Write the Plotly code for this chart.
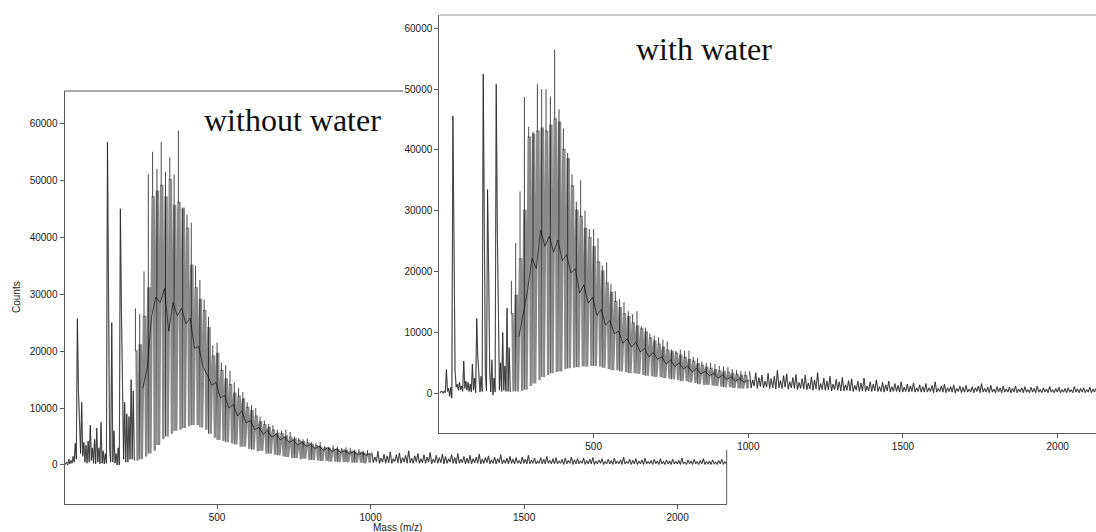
import plotly.graph_objects as go

# Values, in hundreds of counts, 3.5 Da apart from m/z 10.
# Low-mass rows: peak, valley, peak, valley. Main-envelope rows: peak, shoulder, valley, secondary peak.
CORE_START, CORE_STEP = 10.0, 3.5
TAIL_START, TAIL_STEP = 1004.0, 5.0
HEAD_MASS = [3.0, 6.5]

without_head = [0, 2]
without_low = [
    5,0,10,2, 8,3,15,5, 38,10,257,130, 60,20,110,15, 40,5,35,3, 42,5,70,8, 30,3,45,2,
    65,5,30,2, 75,3,25,2, 20,3,567,285, 30,5,250,5, 60,3,20,0, 30,0,450,270, 90,10,110,5,
    90,5,85,10, 150,10,130,8,
]
without_main = [
    275,200,8,70, 265,210,10,135, 340,260,15,170, 510,310,20,260, 550,470,25,295, 520,480,35,285,
    567,490,45,310, 515,470,50,235, 540,500,55,285, 510,455,60,262, 587,460,62,275, 450,450,65,248,
    440,415,68,258, 425,350,70,205, 350,310,70,208, 325,290,66,172, 290,270,62,158, 260,240,55,140,
    210,190,48,145, 215,195,44,118, 180,165,42,122, 175,150,40,100, 165,140,38,106, 145,125,36,86,
    135,120,32,95, 128,115,32,74, 110,100,28,78, 105,95,27,62, 100,85,24,66, 85,75,25,54,
    78,70,20,60, 72,65,20,49, 70,60,18,54, 62,55,17,44, 60,54,15,49, 62,50,14,40,
    58,48,12,44, 50,45,12,35, 47,42,10,40, 45,40,11,33, 46,38,9,36, 40,35,9,29,
    38,33,8,33, 40,30,7,26, 33,29,7,30, 32,28,6,24, 34,27,6,28, 32,26,5,22,
    30,25,5,25, 31,24,5,20, 30,23,4,23, 27,22,4,18, 28,21,4,21, 25,20,3,17, 26,19,4,20,
]
without_tail = [
    22,4,14,6,24,3,12,5,19,3,16,4,23,3,11,6,18,4,21,3,13,5,17,3,25,4,12,3,16,5,20,3,
    11,4,18,3,14,5,22,2,10,4,17,3,13,4,19,2,15,3,11,5,18,3,13,2,20,3,10,4,15,2,12,3,
    17,2,11,4,14,3,19,2,10,3,13,4,16,2,9,3,14,2,11,4,18,2,9,3,12,2,15,3,10,2,13,3,
    8,2,14,3,10,2,17,2,9,3,12,2,7,3,13,2,10,2,15,3,8,2,11,2,13,2,7,3,10,1,12,2,
    8,3,14,1,9,2,11,2,7,3,12,1,8,2,10,2,13,1,7,2,9,3,11,1,6,2,10,2,8,1,12,2,
    7,2,9,1,14,2,6,3,10,1,8,2,11,1,7,2,9,1,12,2,6,2,8,1,10,2,7,1,11,2,6,1,
    9,2,7,1,10,2,6,2,8,1,12,2,5,1,9,2,7,1,10,2,6,1,8,2,11,1,6,2,7,1,9,2,
    5,1,8,2,10,1,6,2,7,1,9,2,5,1,
]

with_head = [0, 3]
with_low = [
    3,0,4,1, 39,3,8,-5, 10,-8,456,227, 38,10,15,5, 18,6,12,3, 53,8,20,5, 18,3,15,2,
    48,5,25,1, 123,60,22,2, 28,3,525,300, 30,4,335,205, 35,2,55,-3, 25,2,508,270, 115,5,50,3,
    100,5,45,3, 140,3,75,2,
]
with_main = [
    185,130,3,85, 247,160,3,93, 332,220,4,135, 487,300,6,170, 438,420,12,222, 430,425,16,205,
    508,430,22,268, 500,435,27,242, 500,430,30,258, 488,440,33,232, 565,450,35,252, 467,445,36,218,
    435,400,40,228, 395,385,41,198, 360,340,42,205, 315,300,43,165, 350,290,44,178, 300,270,44,148,
    270,255,45,158, 270,240,45,128, 255,215,44,138, 210,200,42,112, 215,180,40,120, 180,165,38,98,
    168,150,38,102, 155,140,36,82, 150,130,35,90, 135,125,33,76, 130,115,33,84, 135,110,32,68,
    110,105,30,74, 108,100,29,60, 98,90,28,67, 95,85,27,56, 92,80,27,60, 88,75,25,48,
    85,70,24,55, 72,68,23,44, 70,65,22,50, 72,62,20,40, 70,58,20,45, 70,55,18,35,
    60,52,17,41, 58,48,15,32, 52,45,14,36, 50,42,14,29, 50,40,13,33, 48,38,12,25,
    45,36,11,30, 44,35,10,23, 43,34,10,27, 40,32,9,20, 38,30,8,24, 37,29,8,18, 36,28,8,22,
]
with_tail = [
    36,9,22,12,34,8,26,11,30,9,20,10,33,8,24,9,28,7,38,9,21,8,29,10,32,7,19,9,26,8,31,6,
    18,8,24,7,30,6,17,7,27,5,22,7,34,5,16,6,25,5,20,6,28,4,15,6,23,5,19,4,26,4,14,5,
    21,4,24,3,13,5,20,3,17,4,25,3,12,4,19,3,15,4,22,3,11,3,18,2,14,4,20,2,11,3,16,3,
    13,2,19,2,10,3,15,2,12,3,17,2,9,3,14,2,11,2,16,2,9,3,13,1,19,2,8,3,12,2,15,1,
    9,3,11,2,14,1,8,3,12,1,10,2,13,2,7,2,11,1,9,3,12,1,16,2,8,2,10,1,13,2,7,1,
    11,2,9,1,12,2,7,2,10,1,8,2,12,1,7,2,9,1,11,2,6,1,10,2,8,1,12,2,6,1,9,2,
    7,1,11,2,6,1,8,2,10,1,6,2,8,1,9,2,6,1,11,2,7,1,8,2,9,1,6,2,10,1,7,2,8,1,
]

without_ticks_y = [0, 10000, 20000, 30000, 40000, 50000, 60000]
with_ticks_y = [0, 10000, 20000, 30000, 40000, 50000, 60000]
ticks_x = [500, 1000, 1500, 2000]
HUNDRED = 100


W, H = 1096, 532
AXIS = "#5a5a5a"
TXT = "#1a1a1a"
FONT = "Liberation Sans"
GREY = "#8a8a8a"


def dom(a, b, size):
    return [a / size, b / size]


def add_spectrum(fig, head, low, main, tail, xa, ya):
    def line(xs, ys, color, width):
        fig.add_trace(go.Scatter(x=xs, y=ys, mode="lines", xaxis=xa, yaxis=ya, connectgaps=False,
                                 line=dict(color=color, width=width), showlegend=False, hoverinfo="skip"))

    start = CORE_START + CORE_STEP * len(low)
    rows = [main[i:i + 4] for i in range(0, len(main), 4)]
    row_mass = [start + 4 * CORE_STEP * k for k in range(len(rows))]

    # shoulder band of the main envelope
    gx, gy = [], []
    for m, (t, s, v, p) in zip(row_mass, rows):
        gx += [m, m + CORE_STEP, m + 2 * CORE_STEP, m + 3 * CORE_STEP]
        gy += [s * HUNDRED, s * HUNDRED, v * HUNDRED, p * HUNDRED]
    line(gx, gy, GREY, 2.4)

    # thin low-mass and high-mass parts of the trace
    lx = list(HEAD_MASS) + [CORE_START + CORE_STEP * i for i in range(len(low))] + [None]
    ly = [v * HUNDRED for v in head + low] + [None]
    lx += [TAIL_START + TAIL_STEP * i for i in range(len(tail))]
    ly += [v * HUNDRED for v in tail]
    line(lx, ly, "#808080", 1.1)
    line(lx, ly, "#000000", 0.45)

    # dark peak lines: full height on alternate rows, tips elsewhere
    sx, sy = [], []
    for k, (m, (t, s, v, p)) in enumerate(zip(row_mass, rows)):
        sx += [m, m, None]
        sy += [(v if k % 2 else s) * HUNDRED, t * HUNDRED, None]
    line(sx, sy, "#1a1a1a", 0.8)

    # secondary-peak curve
    cx = [m + 3 * CORE_STEP for m in row_mass][1:]
    cy = [r[3] * HUNDRED for r in rows][1:]
    line(cx, cy, "#000000", 0.6)


fig = go.Figure()
add_spectrum(fig, without_head, without_low, without_main, without_tail, "x", "y")
add_spectrum(fig, with_head, with_low, with_main, with_tail, "x2", "y2")

common = dict(showgrid=False, zeroline=False, showline=True, linecolor=AXIS, linewidth=1,
              ticks="outside", ticklen=4, tickcolor=AXIS, tickwidth=1,
              tickfont=dict(family=FONT, size=10, color=TXT))

fig.update_layout(
    width=W, height=H, autosize=False,
    margin=dict(l=0, r=0, t=0, b=0),
    paper_bgcolor="white", plot_bgcolor="rgba(0,0,0,0)",
    xaxis=dict(domain=dom(64.5, 726.7, W), range=[3, 2160], anchor="y",
               tickvals=ticks_x, **common),
    yaxis=dict(domain=dom(H - 504, H - 91, H), range=[-6850, 65670], anchor="x",
               tickvals=without_ticks_y, tickformat="d", **common),
    xaxis2=dict(domain=dom(439.3, W, W), range=[1, 2124], anchor="y2",
                tickvals=ticks_x, **common),
    yaxis2=dict(domain=dom(H - 433.3, H - 15, H), range=[-6575, 62190], anchor="x2",
                tickvals=with_ticks_y, tickformat="d", **common),
    shapes=[
        dict(type="line", xref="paper", yref="paper", x0=64.5 / W, x1=403 / W,
             y0=(H - 91) / H, y1=(H - 91) / H, line=dict(color=AXIS, width=1)),
        dict(type="line", xref="paper", yref="paper", x0=726.7 / W, x1=726.7 / W,
             y0=(H - 450) / H, y1=(H - 504) / H, line=dict(color=AXIS, width=1)),
        dict(type="line", xref="paper", yref="paper", x0=439.3 / W, x1=1,
             y0=(H - 15) / H, y1=(H - 15) / H, line=dict(color="#999999", width=1)),
    ],
    annotations=[
        dict(text="without water", xref="paper", yref="paper", x=202 / W, y=(H - 120) / H,
             xanchor="left", yanchor="middle", showarrow=False,
             font=dict(family="Liberation Serif", size=32, color="#111111")),
        dict(text="with water", xref="paper", yref="paper", x=634 / W, y=(H - 49) / H,
             xanchor="left", yanchor="middle", showarrow=False,
             font=dict(family="Liberation Serif", size=32, color="#111111")),
        dict(text="Mass (m/z)", xref="paper", yref="paper", x=397 / W, y=(H - 527) / H,
             xanchor="center", yanchor="middle", showarrow=False,
             font=dict(family=FONT, size=10, color=TXT)),
        dict(text="Counts", xref="paper", yref="paper", x=16 / W, y=(H - 297) / H,
             xanchor="center", yanchor="middle", showarrow=False, textangle=-90,
             font=dict(family=FONT, size=10, color=TXT)),
    ],
)
fig.write_html("out.html", config={"displayModeBar": False},
               post_script="document.body.style.margin='0';document.documentElement.style.overflow='hidden';")
